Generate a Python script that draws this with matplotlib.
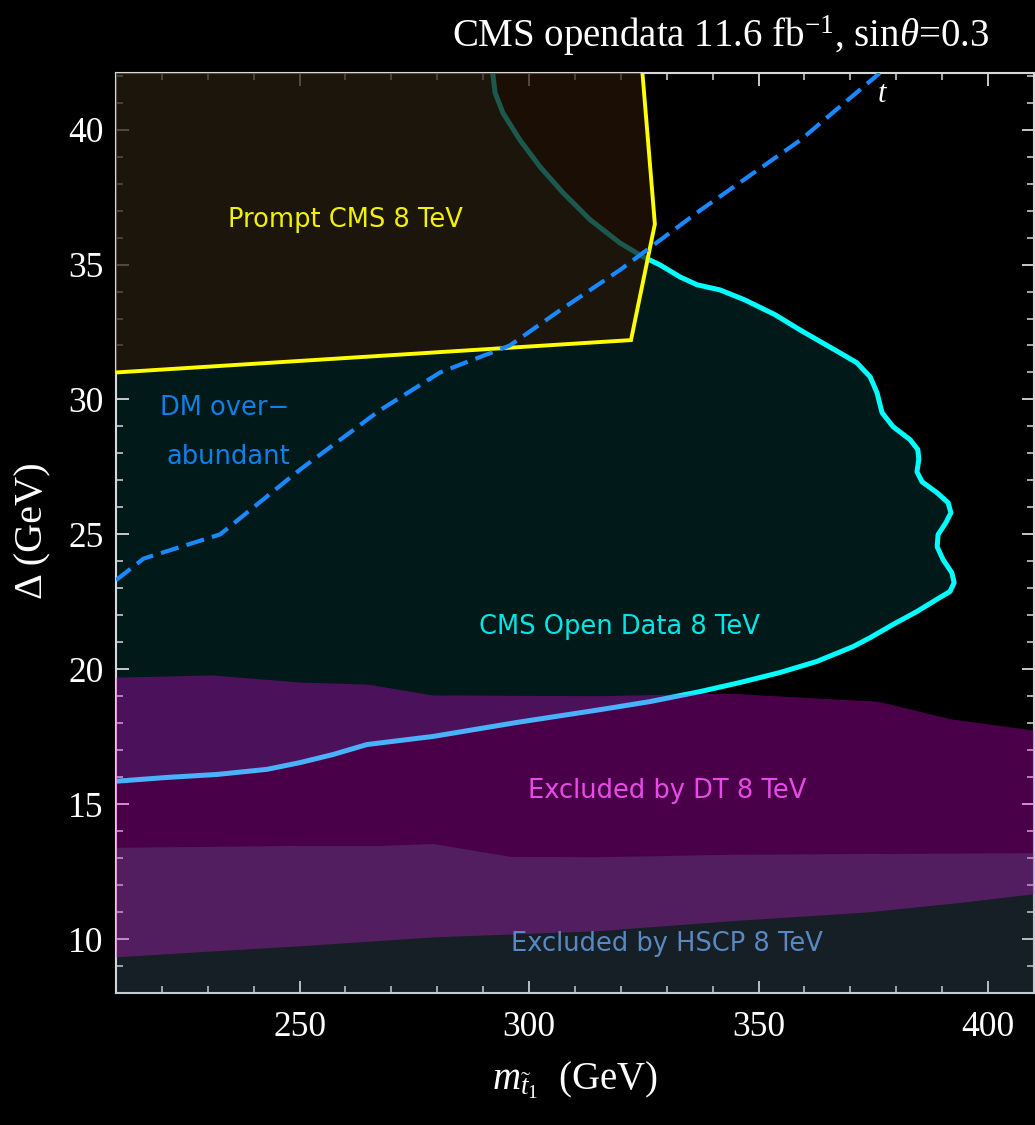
import numpy as np
import matplotlib
matplotlib.use("Agg")
import matplotlib.pyplot as plt
from matplotlib.ticker import MultipleLocator

plt.rcParams['mathtext.fontset'] = 'custom'
plt.rcParams['mathtext.rm'] = 'Liberation Serif'
plt.rcParams['mathtext.it'] = 'Liberation Serif:italic'

XMIN, XMAX = 210, 410
YMIN, YMAX = 8, 42.1

# CMS open data 8 TeV contour (m_stop, Delta)
cms_x = [292.1, 292.6, 294.3, 298.0, 302.4, 307.4, 313.3, 319.8, 324.8, 328.5, 332.9, 336.6,
         341.6, 347.0, 353.6, 359.0, 367.7, 371.4, 374.3, 375.8, 376.9, 379.3, 383.0, 384.7,
         384.9, 384.5, 385.6, 388.9, 391.3, 391.9, 390.8, 389.1, 388.9, 390.2, 392.1, 392.6,
         391.7, 389.5, 384.5, 379.3, 374.3, 370.6, 362.7, 354.7, 346.0, 337.2, 326.3, 315.4,
         297.4, 279.1, 264.7, 257.3, 250.1, 242.9, 232.0, 221.1, 209.3]
cms_y = [42.06, 41.36, 40.62, 39.62, 38.62, 37.66, 36.66, 35.80, 35.29, 34.99, 34.54, 34.25,
         34.06, 33.69, 33.14, 32.58, 31.73, 31.36, 30.84, 30.25, 29.51, 28.99, 28.51, 28.14,
         27.77, 27.32, 26.95, 26.54, 26.17, 25.80, 25.43, 24.99, 24.54, 24.06, 23.58, 23.21,
         22.88, 22.66, 22.14, 21.66, 21.17, 20.84, 20.29, 19.88, 19.51, 19.17, 18.80, 18.50,
         18.03, 17.51, 17.21, 16.84, 16.54, 16.29, 16.10, 15.99, 15.84]

# Prompt CMS 8 TeV boundary
prompt_x = [210.0, 322.2, 327.4, 324.5]
prompt_y = [31.0, 32.2, 36.5, 42.5]

# Disappearing track (DT) excluded band
dt_top_x = [210, 221, 231, 250, 265, 279, 315, 343, 359, 376, 392, 410]
dt_top_y = [19.69, 19.73, 19.77, 19.51, 19.43, 19.03, 19.00, 19.10, 18.95, 18.80, 18.14, 17.73]
dt_bot_x = [210, 228, 250, 279, 315, 344, 374, 395, 410]
dt_bot_y = [9.32, 9.51, 9.73, 10.06, 10.29, 10.66, 10.99, 11.36, 11.66]

# HSCP excluded region (upper edge)
hscp_x = [210, 228, 250, 268, 279, 296, 315, 344, 374, 410]
hscp_y = [13.40, 13.43, 13.47, 13.47, 13.54, 13.06, 13.05, 13.14, 13.17, 13.20]

# DM over-abundance line
dm_x = [210.0, 216.0, 232.7, 250.1, 267.5, 280.6, 295.8, 306.7, 319.8, 337.2, 359.0, 376.4]
dm_y = [23.3, 24.1, 25.0, 27.4, 29.6, 31.0, 32.0, 33.3, 34.8, 37.0, 39.6, 42.1]

fig = plt.figure(figsize=(10.35, 11.25), dpi=100, facecolor='black')
ax = fig.add_axes([116/1035, 1-993/1125, (1034-116)/1035, (993-73)/1125])
ax.set_facecolor('black')
ax.set_xlim(XMIN, XMAX)
ax.set_ylim(YMIN, YMAX)

# CMS open data region (left of contour)
px = list(cms_x) + [XMIN - 5, XMIN - 5, cms_x[0]]
py = list(cms_y) + [cms_y[-1], YMAX + 5, YMAX + 5]
ax.fill(px, py, color='#02191a', zorder=1, lw=0)
ax.plot(cms_x, cms_y, color='#00ffff', lw=3.6, zorder=2, solid_joinstyle='round',
        solid_capstyle='round')

# Prompt region
ppx = [XMIN - 5] + list(prompt_x) + [XMIN - 5]
ppy = [prompt_y[0]] + list(prompt_y) + [prompt_y[-1]]
ax.fill(ppx, ppy, color=(39/255, 20/255, 6/255), alpha=0.71, zorder=3, lw=0)

# DT band
ax.fill(list(dt_top_x) + list(dt_bot_x[::-1]), list(dt_top_y) + list(dt_bot_y[::-1]),
        color=(247/255, 0, 240/255), alpha=0.30, zorder=4, lw=0)

# HSCP region
ax.fill_between(hscp_x, hscp_y, YMIN - 1, color=(115/255, 155/255, 195/255), alpha=0.20,
                zorder=5, lw=0)

# Prompt boundary line
ax.plot([XMIN - 5] + prompt_x, [prompt_y[0]] + prompt_y, color='#ffff00', lw=2.8, zorder=6,
        solid_joinstyle='miter')

# DM over-abundant dashed line
ax.plot(dm_x, dm_y, color='#1a88ff', lw=3.0, dashes=(4.4, 2.0), zorder=7)

# Labels
tf = dict(family='DejaVu Sans', fontsize=18.5, ha='center', va='center', zorder=10)
ax.text(259.9, 36.66, 'Prompt CMS 8 TeV', color='#f2f200', **tf)
ax.text(233.7, 29.69, 'DM over\u2212', color='#0d80ea', **tf)
ax.text(234.4, 27.87, 'abundant', color='#0d80ea', **tf)
ax.text(319.6, 21.58, 'CMS Open Data 8 TeV', color='#00e6e6', **tf)
ax.text(330.0, 15.47, 'Excluded by DT 8 TeV', color='#e84ae8', **tf)
ax.text(330.0, 9.80, 'Excluded by HSCP 8 TeV', color='#5a88c2', **tf)

# Axes styling
for s in ax.spines.values():
    s.set_color('#d8d8d8')
    s.set_linewidth(1.5)
ax.xaxis.set_major_locator(MultipleLocator(50))
ax.xaxis.set_minor_locator(MultipleLocator(10))
ax.yaxis.set_major_locator(MultipleLocator(5))
ax.yaxis.set_minor_locator(MultipleLocator(1))
ax.tick_params(which='both', direction='in', top=True, right=True, colors='#d8d8d8')
ax.tick_params(which='major', length=9, width=1.3)
ax.tick_params(which='minor', length=5, width=1.1)
ax.tick_params(axis='y', which='major', pad=9)
ax.tick_params(axis='x', which='major', pad=13)
for lab in ax.get_xticklabels() + ax.get_yticklabels():
    lab.set_family('Liberation Serif')
    lab.set_fontsize(25.5)
    lab.set_color('white')

fig.text(575/1035, 1 - 1080/1125, r'$m_{\tilde{t}_1}$  (GeV)', color='white',
         fontsize=28, family='Liberation Serif', ha='center', va='center')
fig.text(33/1035, 1 - 531/1125, '\u0394 (GeV)', color='white', fontsize=29,
         family='Liberation Serif', ha='center', va='center', rotation=90)
fig.text(721/1035, 1 - 36/1125, r'CMS opendata 11.6 fb$^{-1}$, sin$\theta$=0.3', color='white',
         fontsize=28, family='Liberation Serif', ha='center', va='center')
fig.text(883/1035, 1 - 95/1125, r'$t$', color='white', fontsize=22,
         family='Liberation Serif', ha='center', va='center')

fig.savefig('out.png', dpi=100, facecolor='black')
